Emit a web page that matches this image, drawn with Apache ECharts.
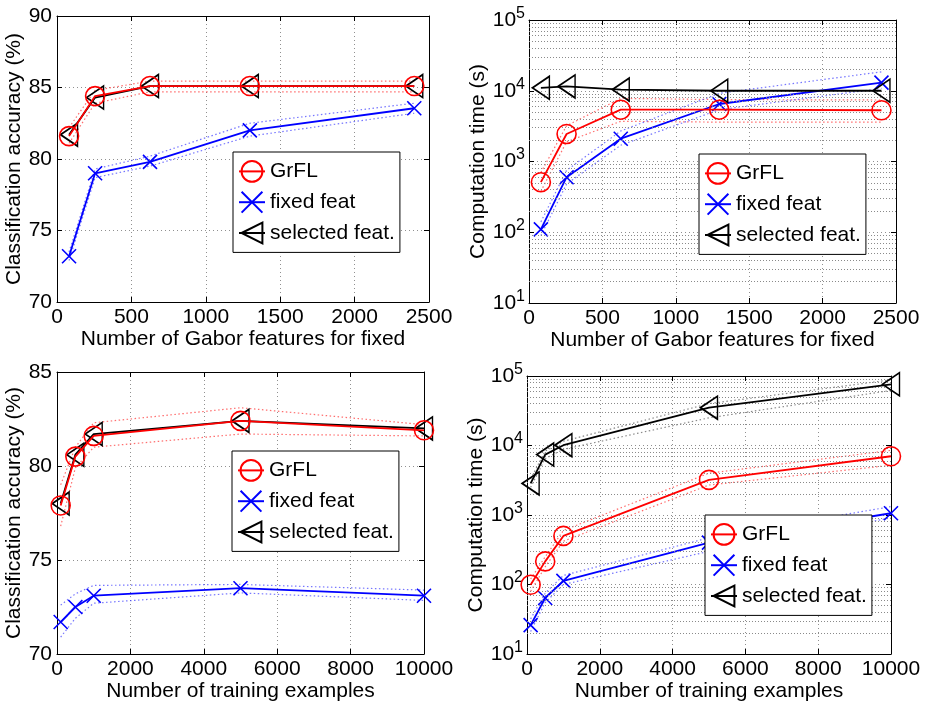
<!DOCTYPE html>
<html><head><meta charset="utf-8">
<script src="https://cdn.jsdelivr.net/npm/echarts/dist/echarts.min.js"></script>
<style>html,body{margin:0;padding:0;background:#fff}#c{width:927px;height:705px}</style>
</head><body><div id="c"></div>
<script>
// ---------- data ----------
const gaborFeatures = [81, 256, 625, 1296, 2401];
const trainingExamples = [100, 500, 1000, 5000, 10000];
const seriesNames = ['GrFL', 'fixed feat', 'selected feat.'];

// Panel 1: accuracy vs number of Gabor features
const acc1GrFL = [81.6, 84.4, 85.1, 85.1, 85.1];
const acc1GrFLHi = [82.2, 84.8, 85.45, 85.45, 85.45];
const acc1GrFLLo = [81.1, 83.9, 84.7, 84.7, 84.7];
const acc1Fixed = [73.2, 79.0, 79.8, 82.0, 83.55];
const acc1FixedHi = [73.5, 79.3, 80.2, 82.5, 83.9];
const acc1FixedLo = [72.9, 78.7, 79.5, 81.6, 83.2];
const acc1Selected = [81.7, 84.3, 85.1, 85.1, 85.1];

// Panel 2: computation time vs number of Gabor features
const time2GrFL = [510, 2450, 5400, 5400, 5300];
const time2GrFLHi = [700, 3200, 7800, 7500, 7400];
const time2GrFLLo = [380, 1900, 3700, 3600, 3600];
const time2Fixed = [110, 600, 2100, 6500, 13000];
const time2FixedHi = [140, 750, 2700, 9200, 18500];
const time2FixedLo = [90, 480, 1700, 5400, 10800];
const time2Selected = [11000, 11500, 10400, 10000, 10000];

// Panel 3: accuracy vs number of training examples
const acc3GrFL = [77.9, 80.5, 81.6, 82.4, 81.9];
const acc3GrFLHi = [79.0, 81.0, 82.3, 83.1, 82.2];
const acc3GrFLLo = [76.8, 79.9, 81.0, 81.7, 81.6];
const acc3Fixed = [71.7, 72.5, 73.1, 73.5, 73.1];
const acc3FixedHi = [72.6, 73.2, 73.65, 73.7, 73.4];
const acc3FixedLo = [70.9, 71.9, 72.7, 73.25, 72.85];
const acc3Selected = [78.0, 80.6, 81.7, 82.4, 82.0];

// Panel 4: computation time vs number of training examples
const time4GrFL = [99, 215, 500, 3200, 7000];
const time4GrFLHi = [120, 250, 600, 4000, 8500];
const time4GrFLLo = [80, 180, 420, 2700, 5200];
const time4Fixed = [26, 64, 113, 400, 1060];
const time4FixedHi = [32, 75, 135, 470, 1320];
const time4FixedLo = [21, 55, 100, 300, 910];
const time4Selected = [2850, 7400, 10100, 35000, 76000];
const time4SelectedHi = [3300, 8300, 11500, 40000, 88000];
const time4SelectedLo = [2500, 6500, 8800, 25000, 62000];

// axis texts
const xTitleGabor = 'Number of Gabor features for fixed';
const xTitleTrain = 'Number of training examples';
const yTitleAcc = 'Classification accuracy (%)';
const yTitleTime = 'Computation time (s)';
const logMinorValues = [20,30,40,50,60,70,80,90,200,300,400,500,600,700,800,900,
  2000,3000,4000,5000,6000,7000,8000,9000,20000,30000,40000,50000,60000,70000,80000,90000];

// ---------- styling ----------
const FONT = 'Liberation Sans, Arial, Helvetica, sans-serif';
const RED = '#ff0000', BLUE = '#0000ff', BLACK = '#000000';
const SYM = {
  GrFL: {symbol: 'circle', size: 19, color: RED, z: 6},
  'fixed feat': {symbol: 'path://M0,0L10,10M0,10L10,0', size: 14, color: BLUE, z: 4},
  'selected feat.': {symbol: 'path://M0,5L10,0L10,10Z', size: [17, 23], color: BLACK, z: 5}
};

const grids = [
  {left: 57, top: 16, width: 372, height: 286},
  {left: 529, top: 20, width: 367, height: 283},
  {left: 57, top: 372, width: 367, height: 282},
  {left: 527, top: 376, width: 364, height: 278}
];

const gridLine = {show: true, lineStyle: {color: '#909090', width: 1, type: [1, 3]}};
const tickInside = {show: true, inside: true, length: 5, lineStyle: {color: '#000'}};
const axisLine = {show: true, onZero: false, lineStyle: {color: '#000', width: 1}};

function xAxisFor(i, max, interval, title) {
  return {
    type: 'value', gridIndex: i, min: 0, max: max, interval: interval,
    axisLine: axisLine, axisTick: tickInside, splitLine: gridLine,
    axisLabel: {color: '#000', fontSize: 21, fontFamily: FONT, margin: 5, formatter: v => String(v)},
    name: title, nameLocation: 'middle', nameGap: 24,
    nameTextStyle: {color: '#000', fontSize: 21, fontFamily: FONT}
  };
}
function xMirror(i, max, interval) {
  return {type: 'value', gridIndex: i, position: 'top', min: 0, max: max, interval: interval,
    axisLine: axisLine, axisTick: tickInside, splitLine: {show: false}, axisLabel: {show: false}};
}
function yLinFor(i, min, max, interval, title, gap) {
  return {
    type: 'value', gridIndex: i, min: min, max: max, interval: interval,
    axisLine: axisLine, axisTick: tickInside, splitLine: gridLine,
    axisLabel: {color: '#000', fontSize: 21, fontFamily: FONT, margin: 5, formatter: v => String(v)},
    name: title, nameLocation: 'middle', nameGap: gap,
    nameTextStyle: {color: '#000', fontSize: 21, fontFamily: FONT}
  };
}
function yLogFor(i, title, gap) {
  return {
    type: 'log', logBase: 10, gridIndex: i, min: 10, max: 100000,
    axisLine: axisLine, axisTick: tickInside, splitLine: gridLine,
    axisLabel: {
      color: '#000', margin: 4,
      formatter: v => '{b|10}{s|' + Math.round(Math.log10(v)) + '}',
      rich: {
        b: {fontSize: 21, fontFamily: FONT, color: '#000', lineHeight: 22, padding: [4, 0, 4, 0]},
        s: {fontSize: 16, fontFamily: FONT, color: '#000', lineHeight: 17, padding: [0, 0, 13, 0]}
      }
    },
    name: title, nameLocation: 'middle', nameGap: gap,
    nameTextStyle: {color: '#000', fontSize: 21, fontFamily: FONT}
  };
}
function yMirror(i, log, min, max, interval) {
  const a = {gridIndex: i, position: 'right', min: min, max: max,
    axisLine: axisLine, axisTick: tickInside, splitLine: {show: false}, axisLabel: {show: false}};
  if (log) { a.type = 'log'; a.logBase = 10; } else { a.type = 'value'; a.interval = interval; }
  return a;
}

function pairs(xs, ys) { return xs.map((x, k) => [x, ys[k]]); }

function mainSeries(name, i, xs, ys) {
  const s = SYM[name];
  return {
    type: 'line', name: name, xAxisIndex: i, yAxisIndex: i, data: pairs(xs, ys),
    color: s.color, symbol: s.symbol, symbolSize: s.size, showAllSymbol: true,
    lineStyle: {color: s.color, width: 1.8},
    itemStyle: {color: 'rgba(0,0,0,0)', borderColor: s.color, borderWidth: 1.6},
    z: s.z, clip: false, animation: false, silent: true, emphasis: {disabled: true}
  };
}
function bandSeries(name, i, xs, ys, color) {
  return {
    type: 'line', name: name, xAxisIndex: i, yAxisIndex: i, data: pairs(xs, ys),
    symbol: 'none', lineStyle: {color: color, width: 1.2, type: [1.5, 2.5]},
    z: 2, animation: false, silent: true, emphasis: {disabled: true}
  };
}
function minorGrid(i) {
  return {
    type: 'line', name: 'minor' + i, xAxisIndex: i, yAxisIndex: i, data: [],
    silent: true, animation: false,
    markLine: {
      silent: true, symbol: ['none', 'none'], animation: false,
      label: {show: false},
      lineStyle: {color: '#8a8a8a', width: 1, type: [1, 2]},
      emphasis: {disabled: true},
      data: logMinorValues.map(v => ({yAxis: v}))
    }
  };
}

const PINK = 'rgba(255,60,60,0.75)', LBLUE = 'rgba(60,60,255,0.7)', GREY = 'rgba(60,60,60,0.6)';

const series = [
  // panel 1
  bandSeries('b1a', 0, gaborFeatures, acc1GrFLHi, PINK),
  bandSeries('b1b', 0, gaborFeatures, acc1GrFLLo, PINK),
  bandSeries('b1c', 0, gaborFeatures, acc1FixedHi, LBLUE),
  bandSeries('b1d', 0, gaborFeatures, acc1FixedLo, LBLUE),
  mainSeries('fixed feat', 0, gaborFeatures, acc1Fixed),
  mainSeries('selected feat.', 0, gaborFeatures, acc1Selected),
  mainSeries('GrFL', 0, gaborFeatures, acc1GrFL),
  // panel 2
  minorGrid(1),
  bandSeries('b2a', 1, gaborFeatures, time2GrFLHi, PINK),
  bandSeries('b2b', 1, gaborFeatures, time2GrFLLo, PINK),
  bandSeries('b2c', 1, gaborFeatures, time2FixedHi, LBLUE),
  bandSeries('b2d', 1, gaborFeatures, time2FixedLo, LBLUE),
  mainSeries('fixed feat', 1, gaborFeatures, time2Fixed),
  mainSeries('selected feat.', 1, gaborFeatures, time2Selected),
  mainSeries('GrFL', 1, gaborFeatures, time2GrFL),
  // panel 3
  bandSeries('b3a', 2, trainingExamples, acc3GrFLHi, PINK),
  bandSeries('b3b', 2, trainingExamples, acc3GrFLLo, PINK),
  bandSeries('b3c', 2, trainingExamples, acc3FixedHi, LBLUE),
  bandSeries('b3d', 2, trainingExamples, acc3FixedLo, LBLUE),
  mainSeries('fixed feat', 2, trainingExamples, acc3Fixed),
  mainSeries('selected feat.', 2, trainingExamples, acc3Selected),
  mainSeries('GrFL', 2, trainingExamples, acc3GrFL),
  // panel 4
  minorGrid(3),
  bandSeries('b4a', 3, trainingExamples, time4GrFLHi, PINK),
  bandSeries('b4b', 3, trainingExamples, time4GrFLLo, PINK),
  bandSeries('b4c', 3, trainingExamples, time4FixedHi, LBLUE),
  bandSeries('b4d', 3, trainingExamples, time4FixedLo, LBLUE),
  bandSeries('b4e', 3, trainingExamples, time4SelectedHi, GREY),
  bandSeries('b4f', 3, trainingExamples, time4SelectedLo, GREY),
  mainSeries('fixed feat', 3, trainingExamples, time4Fixed),
  mainSeries('selected feat.', 3, trainingExamples, time4Selected),
  mainSeries('GrFL', 3, trainingExamples, time4GrFL)
];

function legendAt(left, top) {
  return {
    data: seriesNames, orient: 'vertical', left: left, top: top,
    backgroundColor: '#fff', borderColor: '#000', borderWidth: 1, borderRadius: 0,
    padding: [8, 5, 8, 5], itemGap: 8, itemWidth: 26, itemHeight: 26,
    textStyle: {color: '#000', fontSize: 21, fontFamily: FONT},
    selectedMode: false, z: 20
  };
}

const chart = echarts.init(document.getElementById('c'), null, {renderer: 'canvas'});
chart.setOption({
  backgroundColor: '#fff',
  animation: false,
  textStyle: {fontFamily: FONT},
  grid: grids.map(g => Object.assign({containLabel: false, show: false}, g)),
  xAxis: [
    xAxisFor(0, 2500, 500, xTitleGabor),
    xAxisFor(1, 2500, 500, xTitleGabor),
    xAxisFor(2, 10000, 2000, xTitleTrain),
    xAxisFor(3, 10000, 2000, xTitleTrain),
    xMirror(0, 2500, 500), xMirror(1, 2500, 500), xMirror(2, 10000, 2000), xMirror(3, 10000, 2000)
  ],
  yAxis: [
    yLinFor(0, 70, 90, 5, yTitleAcc, 31),
    yLogFor(1, yTitleTime, 40),
    yLinFor(2, 70, 85, 5, yTitleAcc, 31),
    yLogFor(3, yTitleTime, 38),
    yMirror(0, false, 70, 90, 5), yMirror(1, true, 10, 100000),
    yMirror(2, false, 70, 85, 5), yMirror(3, true, 10, 100000)
  ],
  legend: [legendAt(233, 152), legendAt(699, 154), legendAt(232, 451), legendAt(705, 515)],
  series: series
});
</script></body></html>
